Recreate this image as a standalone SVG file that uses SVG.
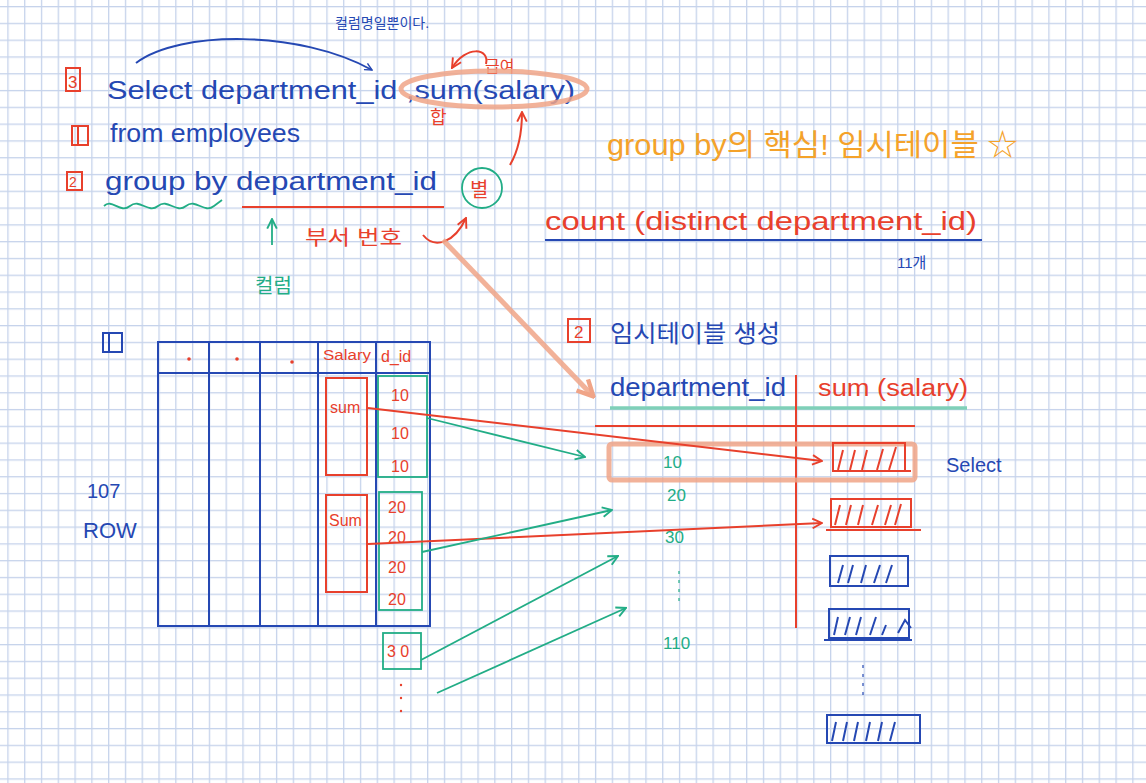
<svg xmlns="http://www.w3.org/2000/svg" width="1146" height="783" viewBox="0 0 1146 783">
<defs>
<pattern id="grid" x="7.3" y="6" width="16.79" height="16.79" patternUnits="userSpaceOnUse">
<rect x="0" y="0" width="1.3" height="16.79" fill="#c6d3eb"/>
<rect x="0" y="0" width="16.79" height="1.3" fill="#c6d3eb"/>
</pattern>
<marker id="ab" viewBox="0 0 10 10" refX="9" refY="5" markerWidth="9" markerHeight="9" markerUnits="userSpaceOnUse" orient="auto"><path d="M1,1 L9,5 L1,9" fill="none" stroke="#2548b3" stroke-width="1.6"/></marker>
<marker id="ar" viewBox="0 0 10 10" refX="9" refY="5" markerWidth="12" markerHeight="12" markerUnits="userSpaceOnUse" orient="auto"><path d="M1,1 L9,5 L1,9" fill="none" stroke="#e8402c" stroke-width="1.6"/></marker>
<marker id="ag" viewBox="0 0 10 10" refX="9" refY="5" markerWidth="12" markerHeight="12" markerUnits="userSpaceOnUse" orient="auto"><path d="M1,1 L9,5 L1,9" fill="none" stroke="#22ad86" stroke-width="1.6"/></marker>
<marker id="as" viewBox="0 0 10 10" refX="8" refY="5" markerWidth="20" markerHeight="20" markerUnits="userSpaceOnUse" orient="auto"><path d="M1,1 L9,5 L1,9" fill="none" stroke="#f0a487" stroke-width="2.2"/></marker>
</defs>
<style>
text{font-family:"Liberation Sans","Noto Sans CJK KR",sans-serif}
.b{fill:#2548b3}.r{fill:#e8402c}.g{fill:#22ad86}.o{fill:#f4a22a}
.sb{fill:none;stroke:#2548b3;stroke-width:2}
.sr{fill:none;stroke:#e8402c;stroke-width:2}
.sg{fill:none;stroke:#22ad86;stroke-width:1.8}
.ss{fill:none;stroke:#f0a487;stroke-opacity:0.85}
</style>
<rect width="1146" height="783" fill="#ffffff"/>
<rect width="1146" height="783" fill="url(#grid)"/>

<g id="query">
<text x="335" y="28" font-size="14" class="b">컬럼명일뿐이다.</text>
<rect x="66" y="68" width="14" height="23" class="sr"/>
<text x="68" y="88" font-size="17" class="r">3</text>
<text x="107" y="99" font-size="26" class="b" textLength="468" lengthAdjust="spacingAndGlyphs">Select department_id ,sum(salary)</text>
<rect x="72" y="126" width="16" height="19" class="sr"/>
<line x1="78" y1="127" x2="78" y2="144" class="sr"/>
<text x="110" y="142" font-size="26" class="b" textLength="190" lengthAdjust="spacingAndGlyphs">from employees</text>
<rect x="67" y="172" width="15" height="18" class="sr"/>
<text x="69" y="187" font-size="14" class="r">2</text>
<text x="105" y="190" font-size="26" class="b" textLength="332" lengthAdjust="spacingAndGlyphs">group by  department_id</text>
<path d="M104,206 C112,198 120,214 130,206 C140,198 148,214 158,206 C168,198 176,214 186,206 C196,198 204,214 214,206 L222,200" class="sg" stroke-width="2"/>
<line x1="242" y1="207" x2="444" y2="207" class="sr" stroke-width="2.5"/>
<text x="430" y="124" font-size="18" class="r">합</text>
<text x="485" y="72" font-size="16" class="r">급여</text>
<ellipse cx="494" cy="89" rx="93" ry="18" class="ss" stroke-width="5"/>
<circle cx="482" cy="188" r="20" class="sg"/>
<text x="470" y="197" font-size="20" class="r">별</text>
<text x="305" y="245" font-size="20" class="r" textLength="97" lengthAdjust="spacingAndGlyphs">부서 번호</text>
<text x="255" y="293" font-size="20" class="g">컬럼</text>
</g>

<g id="keypoint">
<text x="607" y="155" font-size="30" class="o" textLength="411" lengthAdjust="spacingAndGlyphs">group by의 핵심! 임시테이블 ☆</text>
<text x="545" y="230" font-size="26" class="r" textLength="432" lengthAdjust="spacingAndGlyphs">count (distinct department_id)</text>
<line x1="545" y1="240" x2="982" y2="240" class="sb"/>
<text x="897" y="268" font-size="15" class="b">11개</text>
</g>

<g id="employees-table">
<rect x="103" y="333" width="19" height="19" class="sb"/>
<line x1="109" y1="334" x2="109" y2="351" class="sb"/>
<text x="87" y="498" font-size="20" class="b">107</text>
<text x="83" y="538" font-size="22" class="b">ROW</text>
<rect x="158" y="342" width="272" height="284" class="sb"/>
<line x1="158" y1="373" x2="430" y2="373" class="sb"/>
<line x1="209" y1="342" x2="209" y2="626" class="sb"/>
<line x1="260" y1="342" x2="260" y2="626" class="sb"/>
<line x1="318" y1="342" x2="318" y2="626" class="sb"/>
<line x1="376" y1="342" x2="376" y2="626" class="sb"/>
<circle cx="189" cy="359" r="1.8" class="r"/>
<circle cx="237" cy="359" r="1.8" class="r"/>
<circle cx="292" cy="362" r="1.8" class="r"/>
<text x="323" y="360" font-size="14" class="r" textLength="48" lengthAdjust="spacingAndGlyphs">Salary</text>
<text x="381" y="362" font-size="16" class="r">d_id</text>
<rect x="326" y="378" width="41" height="97" class="sr" stroke-width="1.6"/>
<text x="330" y="413" font-size="16" class="r">sum</text>
<rect x="378" y="376" width="49" height="101" class="sg"/>
<text x="391" y="401" font-size="16" class="r">10</text>
<text x="391" y="439" font-size="16" class="r">10</text>
<text x="391" y="472" font-size="16" class="r">10</text>
<rect x="326" y="495" width="41" height="97" class="sr" stroke-width="1.6"/>
<text x="329" y="526" font-size="16" class="r">Sum</text>
<rect x="379" y="492" width="43" height="118" class="sg"/>
<text x="388" y="513" font-size="16" class="r">20</text>
<text x="388" y="543" font-size="16" class="r">20</text>
<text x="388" y="573" font-size="16" class="r">20</text>
<text x="388" y="605" font-size="16" class="r">20</text>
<rect x="383" y="633" width="38" height="36" class="sg"/>
<text x="387" y="657" font-size="16" class="r">3 0</text>
<circle cx="401" cy="685" r="1.2" class="r"/>
<circle cx="401" cy="698" r="1.2" class="r"/>
<circle cx="401" cy="711" r="1.2" class="r"/>
</g>

<g id="temp-table">
<rect x="568" y="319" width="22" height="23" class="sr"/>
<text x="574" y="338" font-size="17" class="r">2</text>
<text x="610" y="342" font-size="24" class="b" textLength="170" lengthAdjust="spacingAndGlyphs">임시테이블 생성</text>
<text x="610" y="396" font-size="25" class="b" textLength="176" lengthAdjust="spacingAndGlyphs">department_id</text>
<text x="818" y="396" font-size="23" class="r" textLength="150" lengthAdjust="spacingAndGlyphs">sum (salary)</text>
<line x1="610" y1="408" x2="967" y2="408" stroke="#7fd0b8" stroke-width="3.5"/>
<line x1="595" y1="426" x2="915" y2="426" class="sr"/>
<line x1="796" y1="375" x2="796" y2="628" class="sr"/>
<rect x="609" y="444" width="306" height="36" rx="3" class="ss" stroke-width="5"/>
<text x="663" y="468" font-size="17" class="g">10</text>
<text x="667" y="501" font-size="17" class="g">20</text>
<text x="665" y="543" font-size="17" class="g">30</text>
<line x1="679" y1="571" x2="679" y2="602" stroke="#22ad86" stroke-width="1.2" stroke-dasharray="3,6"/>
<text x="663" y="649" font-size="17" class="g">110</text>
<text x="946" y="472" font-size="20" class="b">Select</text>
</g>

<g id="sum-boxes">
<rect x="833" y="443" width="72" height="28" class="sr"/>
<path d="M838,470 L843,450 M850,470 L855,450 M862,470 L867,450 M877,470 L883,449 M889,470 L896,447" class="sr"/>
<line x1="905" y1="471" x2="911" y2="471" class="sr"/>
<rect x="831" y="499" width="80" height="28" class="sr"/>
<path d="M835,525 L840,505 M846,525 L851,505 M858,525 L863,505 M872,525 L878,505 M885,525 L891,505 M895,525 L901,504" class="sr"/>
<line x1="826" y1="530" x2="921" y2="530" class="sr"/>
<rect x="830" y="556" width="78" height="30" class="sb"/>
<path d="M838,583 L843,565 M848,583 L853,565 M861,583 L866,565 M874,583 L880,565 M886,583 L892,565" class="sb"/>
<rect x="829" y="609" width="80" height="29" class="sb"/>
<path d="M834,635 L838,617 M845,635 L850,617 M856,635 L861,617 M870,635 L876,617 M882,635 L886,625 M898,633 L905,620 L911,628" class="sb"/>
<line x1="824" y1="640" x2="912" y2="640" class="sb"/>
<line x1="863" y1="665" x2="863" y2="697" stroke="#2548b3" stroke-width="1.2" stroke-dasharray="3,6"/>
<rect x="827" y="715" width="93" height="28" class="sb"/>
<path d="M832,741 L836,722 M843,741 L847,722 M854,741 L858,722 M866,741 L870,722 M878,741 L882,722 M890,741 L895,722" class="sb"/>
</g>

<g id="connectors">
<path d="M136,63 C180,30 300,30 372,70" class="sb" stroke-width="1.6" marker-end="url(#ab)"/>
<path d="M486,64 C490,48 466,45 452,68" class="sr" marker-end="url(#ar)"/>
<path d="M510,165 C520,148 522,130 522,112" class="sr" marker-end="url(#ar)"/>
<line x1="272" y1="245" x2="272" y2="219" class="sg" marker-end="url(#ag)"/>
<path d="M423,235 C435,250 455,242 466,218" class="sr" marker-end="url(#ar)"/>
<line x1="443" y1="240" x2="592" y2="395" class="ss" stroke-width="5" marker-end="url(#as)"/>
<line x1="368" y1="408" x2="822" y2="461" class="sr" stroke-width="1.5" marker-end="url(#ar)"/>
<line x1="368" y1="544" x2="822" y2="523" class="sr" stroke-width="1.5" marker-end="url(#ar)"/>
<line x1="427" y1="418" x2="585" y2="457" class="sg" stroke-width="1.5" marker-end="url(#ag)"/>
<line x1="422" y1="552" x2="612" y2="510" class="sg" stroke-width="1.5" marker-end="url(#ag)"/>
<line x1="421" y1="660" x2="618" y2="556" class="sg" stroke-width="1.5" marker-end="url(#ag)"/>
<line x1="437" y1="693" x2="626" y2="608" class="sg" stroke-width="1.5" marker-end="url(#ag)"/>
</g>
</svg>
